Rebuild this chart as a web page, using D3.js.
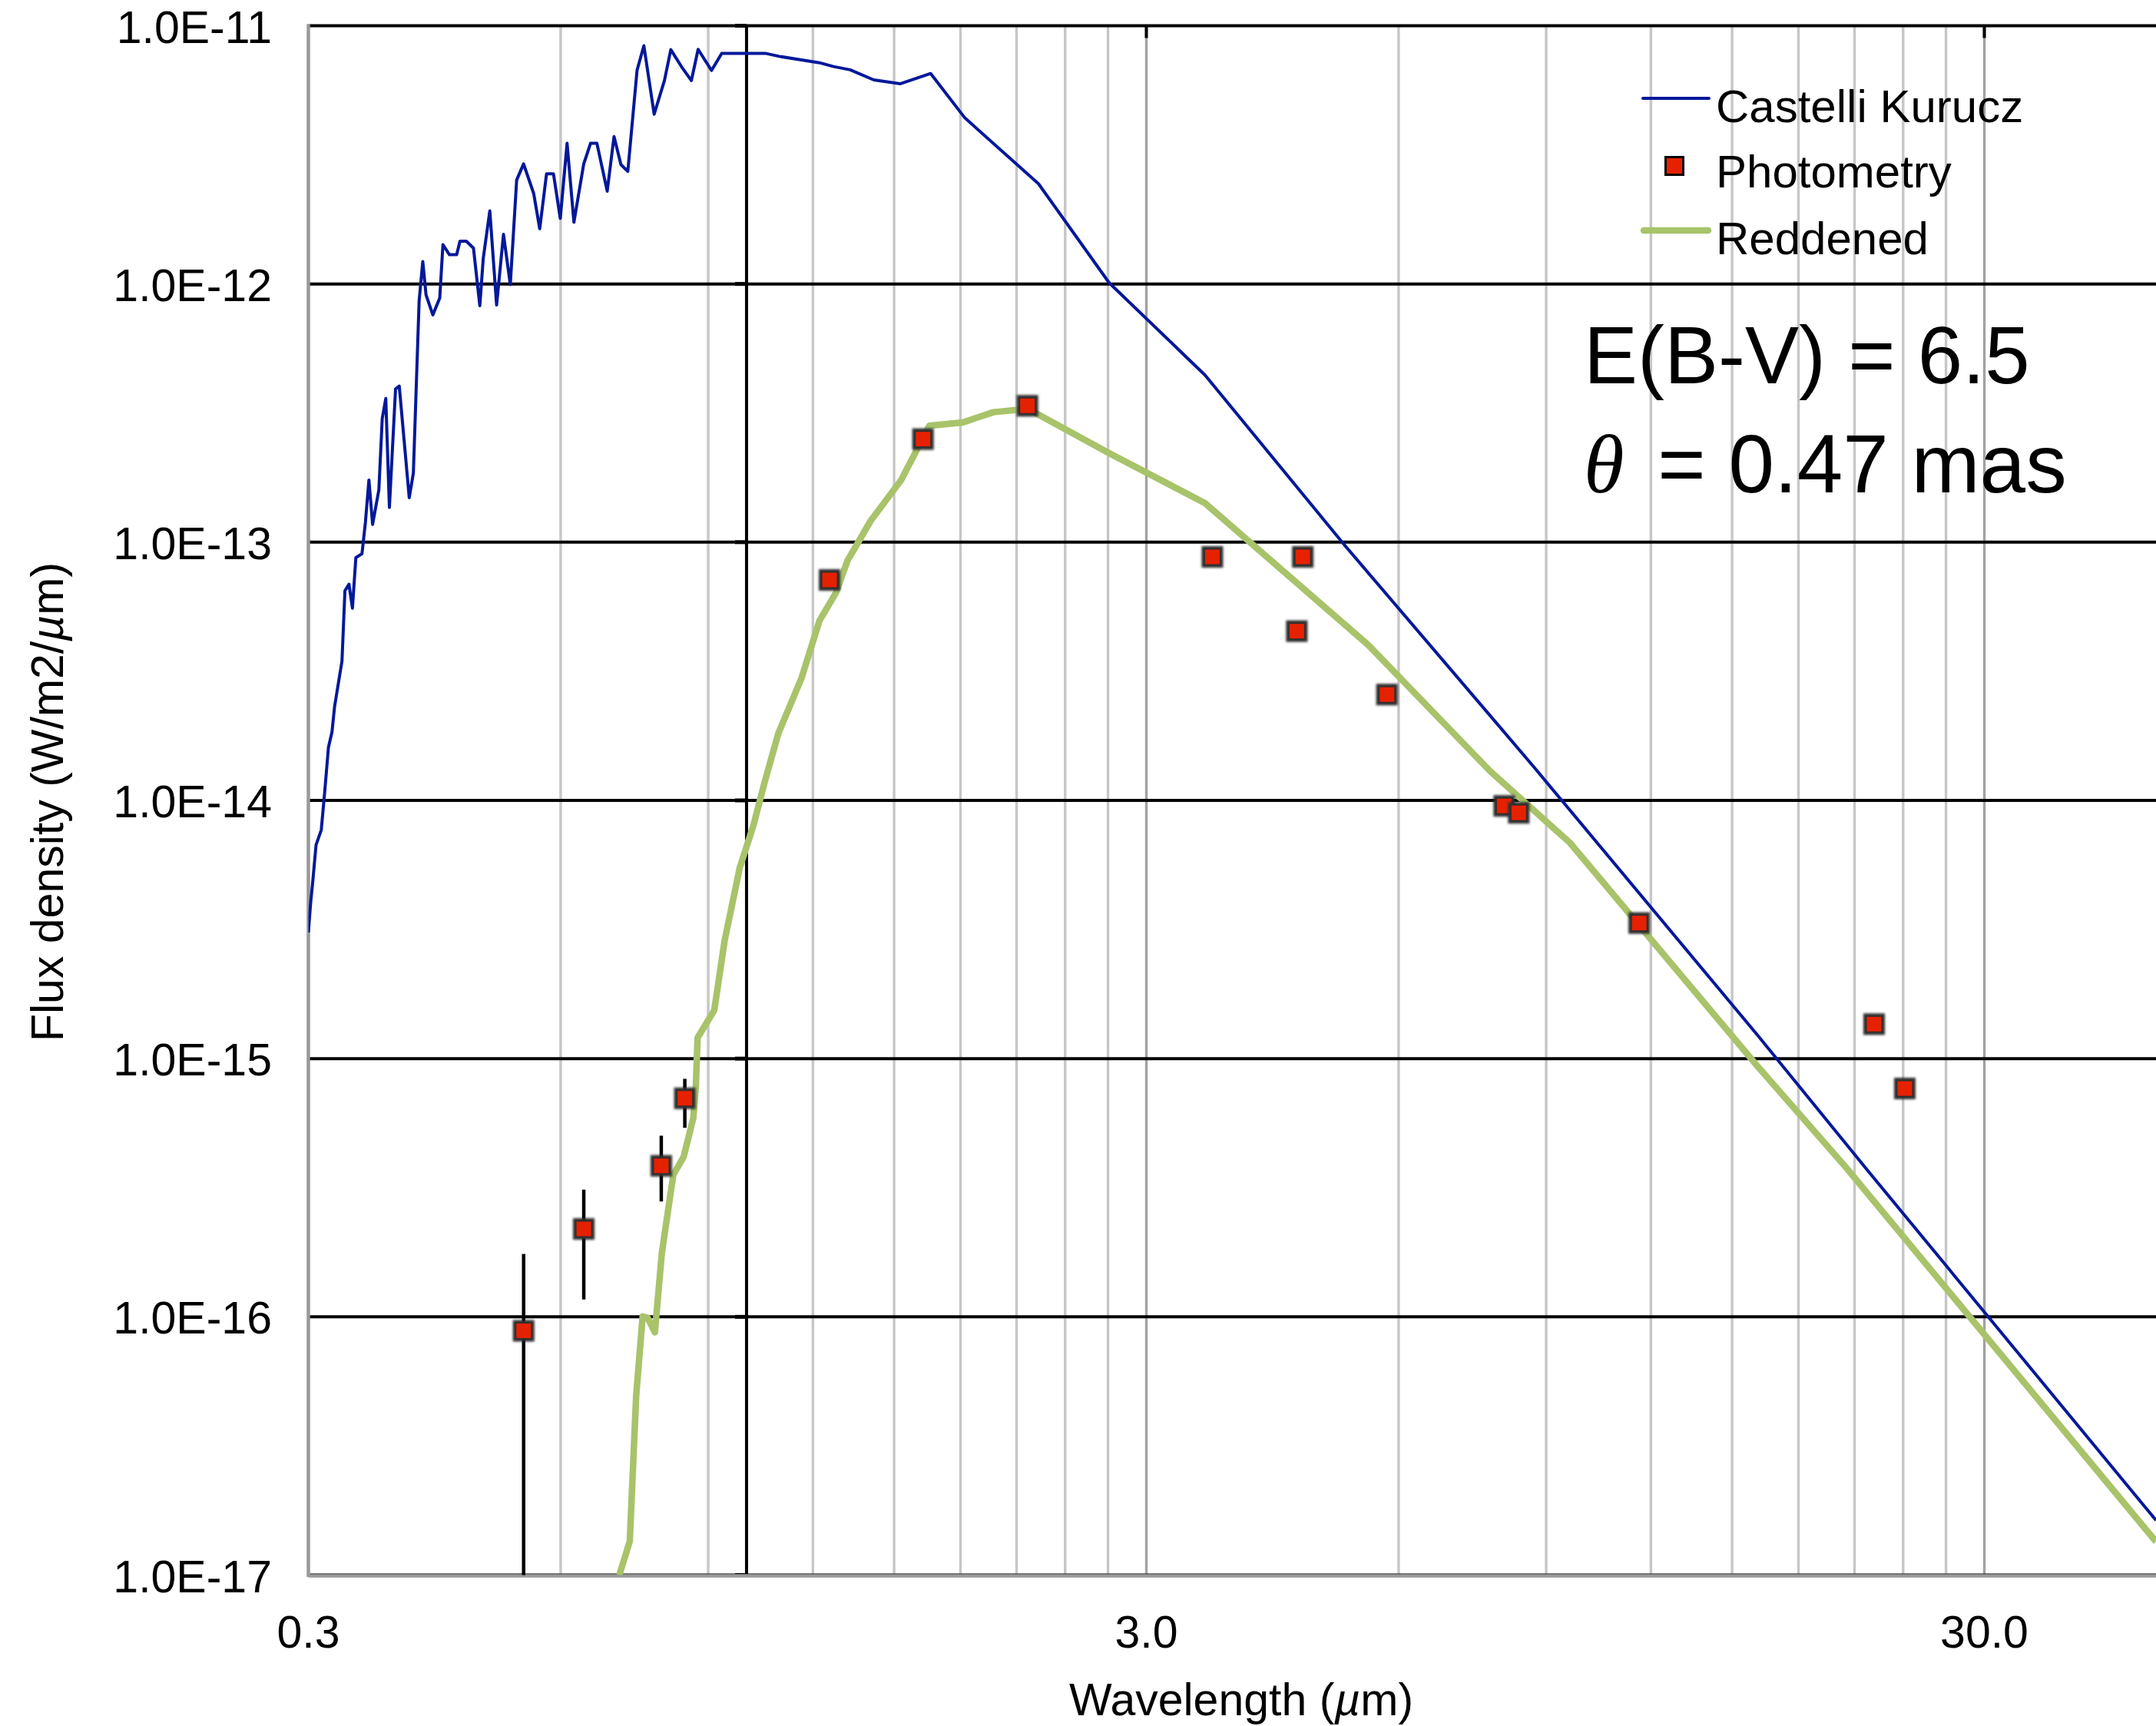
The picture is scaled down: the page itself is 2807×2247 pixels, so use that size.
<!DOCTYPE html>
<html>
<head>
<meta charset="utf-8">
<script src="https://cdn.jsdelivr.net/npm/d3@7"></script>
<style>
  body { margin: 0; background: #fff; }
  #outer { width: 2807px; height: 2247px; }
  text { font-family: "Liberation Sans", Arial, Helvetica, sans-serif; fill: #000; }
</style>
</head>
<body>
<div id="outer"></div>
<script>
////////// DATA //////////
// Castelli Kurucz model: [wavelength um, flux W/m2/um]
const modelSpectrum = [
  [0.3000, 3.08e-15], [0.3019, 4.03e-15], [0.3035, 4.78e-15], [0.3064, 6.73e-15], [0.3108, 7.68e-15],
  [0.3137, 1.07e-14], [0.3170, 1.605e-14], [0.3201, 1.84e-14], [0.3224, 2.31e-14], [0.3290, 3.46e-14],
  [0.3317, 6.49e-14], [0.3354, 6.87e-14], [0.3386, 5.55e-14], [0.3418, 8.71e-14], [0.3476, 9.02e-14],
  [0.3509, 1.194e-13], [0.3543, 1.74e-13], [0.3579, 1.172e-13], [0.3641, 1.594e-13], [0.3675, 3.01e-13],
  [0.3711, 3.60e-13], [0.3748, 1.363e-13], [0.3812, 3.92e-13], [0.3851, 4.02e-13], [0.3958, 1.487e-13],
  [0.4003, 1.851e-13], [0.4067, 8.59e-13], [0.4108, 1.221e-12], [0.4145, 9.07e-13], [0.4223, 7.59e-13],
  [0.4304, 8.82e-13], [0.4342, 1.42e-12], [0.4420, 1.298e-12], [0.4509, 1.298e-12], [0.4550, 1.464e-12],
  [0.4630, 1.464e-12], [0.4722, 1.377e-12], [0.4805, 8.23e-13], [0.4851, 1.259e-12], [0.4939, 1.918e-12],
  [0.5032, 8.29e-13], [0.5128, 1.557e-12], [0.5225, 9.95e-13], [0.5317, 2.526e-12], [0.5419, 2.917e-12],
  [0.5572, 2.239e-12], [0.5665, 1.636e-12], [0.5772, 2.67e-12], [0.5883, 2.67e-12], [0.5994, 1.794e-12],
  [0.6107, 3.504e-12], [0.6223, 1.734e-12], [0.6393, 2.917e-12], [0.6514, 3.504e-12], [0.6629, 3.504e-12],
  [0.6819, 2.287e-12], [0.6948, 3.724e-12], [0.7081, 2.899e-12], [0.7216, 2.728e-12], [0.7402, 6.72e-12],
  [0.7542, 8.37e-12], [0.7758, 4.545e-12], [0.7980, 6.13e-12], [0.8121, 8.08e-12], [0.8366, 6.93e-12],
  [0.8593, 6.13e-12], [0.8754, 8.10e-12], [0.9082, 6.71e-12], [0.9341, 7.82e-12], [1.0526, 7.82e-12],
  [1.0940, 7.61e-12], [1.2218, 7.19e-12], [1.2698, 6.95e-12], [1.3293, 6.75e-12], [1.4183, 6.17e-12],
  [1.5247, 5.96e-12], [1.6586, 6.53e-12], [1.8214, 4.40e-12], [2.2306, 2.443e-12], [2.7087, 1.0097e-12],
  [3.5242, 4.44e-13], [5.1748, 9.72e-14], [7.715, 2.13e-14], [8.72, 1.335e-14],
  [16.09, 1.232e-15], [21.62, 3.79e-16], [48.08, 1.63e-17]
];

// Reddened model
const reddenedSpectrum = [
  [0.705, 1.0e-17], [0.7255, 1.352e-17], [0.7383, 4.925e-17], [0.7516, 1.0035e-16], [0.7621, 9.91e-17],
  [0.7774, 8.71e-17], [0.7923, 1.764e-16], [0.8177, 3.548e-16], [0.8410, 4.153e-16], [0.8639, 5.89e-16],
  [0.8699, 7.79e-16], [0.8741, 1.205e-15], [0.9151, 1.539e-15], [0.9416, 2.867e-15], [0.9814, 5.48e-15],
  [1.0195, 8.04e-15], [1.0499, 1.163e-14], [1.0912, 1.816e-14], [1.1627, 2.967e-14], [1.2218, 4.96e-14],
  [1.2786, 6.37e-14], [1.3197, 8.48e-14], [1.4059, 1.208e-13], [1.5293, 1.74e-13], [1.6525, 2.824e-13],
  [1.8109, 2.909e-13], [1.9703, 3.187e-13], [2.1666, 3.284e-13], [2.7087, 2.212e-13], [3.5242, 1.417e-13],
  [5.5234, 3.99e-14], [7.715, 1.298e-14], [9.595, 6.88e-15], [16.09, 9.33e-16], [20.51, 3.79e-16],
  [48.08, 1.347e-17]
];

// Photometry
const photWavelength = [0.542, 0.6394, 0.7911, 0.8440, 1.2562, 1.6239, 2.1638, 3.5964, 4.611, 4.536, 5.811, 8.019, 8.346, 11.62, 22.16, 24.11];
const photFlux = [8.83e-17, 2.19e-16, 3.845e-16, 7.02e-16, 7.14e-14, 2.507e-13, 3.375e-13, 8.77e-14, 8.77e-14, 4.524e-14, 2.57e-14, 9.52e-15, 8.95e-15, 3.35e-15, 1.36e-15, 7.66e-16];
const photErrLow = [1e-18, 1.168e-16, 2.797e-16, 5.395e-16, null, null, null, null, null, null, null, null, null, null, null, null];
const photErrHigh = [1.752e-16, 3.107e-16, 5.03e-16, 8.35e-16, null, null, null, null, null, null, null, null, null, null, null, null];

// axes
const xTickValues = [0.3, 3.0, 30.0];
const xTickLabels = ['0.3', '3.0', '30.0'];
const yTickValues = [1e-17, 1e-16, 1e-15, 1e-14, 1e-13, 1e-12, 1e-11];
const yTickLabels = ['1.0E-17', '1.0E-16', '1.0E-15', '1.0E-14', '1.0E-13', '1.0E-12', '1.0E-11'];
const legendLabels = ['Castelli Kurucz', 'Photometry', 'Reddened'];


////////// Layout //////////
const W = 2807, H = 2247;
const plotLeft = 401.5, plotRight = 2807, plotTop = 33.5, plotBottom = 2050.5;
const xMax = 48.08;
const crossX = 1.0;   // secondary vertical axis sits at 1 um

const blue = '#03189a', green = '#a8c36a', red = '#e62100';

const x = d3.scaleLog().domain([0.3, xMax]).range([plotLeft, plotRight]);
const y = d3.scaleLog().domain([1e-17, 1e-11]).range([plotBottom, plotTop]);

const svg = d3.select('#outer').append('svg')
  .attr('width', W).attr('height', H)
  .style('display', 'block');

const defs = svg.append('defs');
defs.append('clipPath').attr('id', 'plotClip')
  .append('rect')
  .attr('x', plotLeft).attr('y', plotTop)
  .attr('width', plotRight - plotLeft).attr('height', plotBottom - plotTop);
defs.append('filter').attr('id', 'soft')
  .attr('x', '-50%').attr('y', '-50%').attr('width', '200%').attr('height', '200%')
  .append('feGaussianBlur').attr('stdDeviation', 1.8);


////////// Grid //////////
const grid = svg.append('g').attr('class', 'grid');

// vertical gridlines at 1..9 x each decade start
const xGrid = [];
xTickValues.forEach(base => {
  d3.range(1, 10).forEach(k => {
    const v = base * k;
    if (v > 0.3 && v <= xMax) xGrid.push({ v, major: k === 1 });
  });
});

grid.selectAll('line.vgrid').data(xGrid).join('line')
  .attr('class', 'vgrid')
  .attr('x1', d => x(d.v)).attr('x2', d => x(d.v))
  .attr('y1', plotTop).attr('y2', plotBottom)
  .attr('stroke', d => d.major ? '#a2a2a2' : '#c6c6c6')
  .attr('stroke-width', 3.4);

grid.selectAll('line.hgrid').data(yTickValues).join('line')
  .attr('class', 'hgrid')
  .attr('x1', plotLeft).attr('x2', plotRight)
  .attr('y1', d => y(d)).attr('y2', d => y(d))
  .attr('stroke', '#000')
  .attr('stroke-width', 4);

// secondary axis at 1 um with ticks pointing left
grid.append('line')
  .attr('x1', x(crossX)).attr('x2', x(crossX))
  .attr('y1', plotTop).attr('y2', plotBottom)
  .attr('stroke', '#000').attr('stroke-width', 4);
grid.selectAll('line.ctick').data(yTickValues).join('line')
  .attr('class', 'ctick')
  .attr('x1', x(crossX) - 15).attr('x2', x(crossX))
  .attr('y1', d => y(d)).attr('y2', d => y(d))
  .attr('stroke', '#000').attr('stroke-width', 5);

// ticks on the top line
grid.selectAll('line.ttick').data(xTickValues.slice(1)).join('line')
  .attr('class', 'ttick')
  .attr('x1', d => x(d)).attr('x2', d => x(d))
  .attr('y1', plotTop).attr('y2', plotTop + 16)
  .attr('stroke', '#000').attr('stroke-width', 4);

// main axes (grey)
grid.append('line')
  .attr('x1', plotLeft).attr('x2', plotLeft)
  .attr('y1', plotTop - 2).attr('y2', plotBottom + 2.5)
  .attr('stroke', '#999').attr('stroke-width', 4.5);
grid.append('line')
  .attr('x1', plotLeft).attr('x2', plotRight)
  .attr('y1', plotBottom + 1).attr('y2', plotBottom + 1)
  .attr('stroke', '#999').attr('stroke-width', 4.5);


////////// Tick labels //////////
svg.append('g').selectAll('text').data(yTickValues).join('text')
  .attr('x', 354)
  .attr('y', d => y(d) + 22)
  .attr('text-anchor', 'end')
  .style('font-size', '59px')
  .text((d, i) => yTickLabels[i]);

svg.append('g').selectAll('text').data(xTickValues).join('text')
  .attr('x', d => x(d))
  .attr('y', 2145)
  .attr('text-anchor', 'middle')
  .style('font-size', '59px')
  .text((d, i) => xTickLabels[i]);

// axis titles
const xTitle = svg.append('text')
  .attr('x', 1616).attr('y', 2233)
  .attr('text-anchor', 'middle')
  .style('font-size', '59px');
xTitle.append('tspan').text('Wavelength (');
xTitle.append('tspan').style('font-style', 'italic').text('\u00b5');
xTitle.append('tspan').text('m)');

const yTitle = svg.append('text')
  .attr('transform', 'translate(82,1044) rotate(-90)')
  .attr('text-anchor', 'middle')
  .style('font-size', '59px');
yTitle.append('tspan').text('Flux density (W/m2/');
yTitle.append('tspan').style('font-style', 'italic').text('\u00b5');
yTitle.append('tspan').text('m)');


////////// Series //////////
const plot = svg.append('g').attr('clip-path', 'url(#plotClip)');

const lineGen = d3.line()
  .x(d => x(d[0]))
  .y(d => y(d[1]));

plot.append('path')
  .datum(reddenedSpectrum)
  .attr('d', lineGen)
  .attr('fill', 'none')
  .attr('stroke', green)
  .attr('stroke-width', 8.5)
  .attr('stroke-linejoin', 'round');

plot.append('path')
  .datum(modelSpectrum)
  .attr('d', lineGen)
  .attr('fill', 'none')
  .attr('stroke', blue)
  .attr('stroke-width', 4)
  .attr('stroke-linejoin', 'round');

const phot = photWavelength.map((w, i) => ({
  w, f: photFlux[i], lo: photErrLow[i], hi: photErrHigh[i]
}));

plot.selectAll('line.err').data(phot.filter(d => d.lo !== null)).join('line')
  .attr('class', 'err')
  .attr('x1', d => x(d.w)).attr('x2', d => x(d.w))
  .attr('y1', d => y(d.hi)).attr('y2', d => y(d.lo))
  .attr('stroke', '#000').attr('stroke-width', 4.5);

const markers = plot.selectAll('g.mark').data(phot).join('g')
  .attr('class', 'mark')
  .attr('transform', d => `translate(${x(d.w)},${y(d.f)})`);
markers.append('rect')
  .attr('x', -14).attr('y', -14).attr('width', 28).attr('height', 28)
  .attr('fill', '#2e2e2e')
  .attr('filter', 'url(#soft)');
markers.append('rect')
  .attr('x', -9.5).attr('y', -9.5).attr('width', 19).attr('height', 19)
  .attr('fill', red);


////////// Legend //////////
const legend = svg.append('g').attr('class', 'legend');
legend.append('line')
  .attr('x1', 2139).attr('x2', 2225).attr('y1', 128).attr('y2', 128)
  .attr('stroke', blue).attr('stroke-width', 4).attr('stroke-linecap', 'round');
legend.append('rect')
  .attr('x', 2168.5).attr('y', 204.5).attr('width', 23).attr('height', 23)
  .attr('fill', red).attr('stroke', '#000').attr('stroke-width', 3);
legend.append('line')
  .attr('x1', 2140).attr('x2', 2224).attr('y1', 300).attr('y2', 300)
  .attr('stroke', green).attr('stroke-width', 8.5).attr('stroke-linecap', 'round');

legend.selectAll('text').data(legendLabels).join('text')
  .attr('x', 2234)
  .attr('y', (d, i) => [159, 244, 331][i])
  .style('font-size', '60px')
  .text(d => d);


////////// Annotation //////////
svg.append('text')
  .attr('x', 2062).attr('y', 499)
  .style('font-size', '105px')
  .text('E(B-V) = 6.5');

const theta = svg.append('text')
  .attr('x', 2062).attr('y', 641)
  .style('font-size', '107px');
theta.append('tspan')
  .style('font-family', '"Liberation Serif", "Times New Roman", serif')
  .style('font-style', 'italic')
  .text('\u03b8');
theta.append('tspan').attr('dx', 14).text(' = 0.47 mas');
</script>
</body>
</html>
